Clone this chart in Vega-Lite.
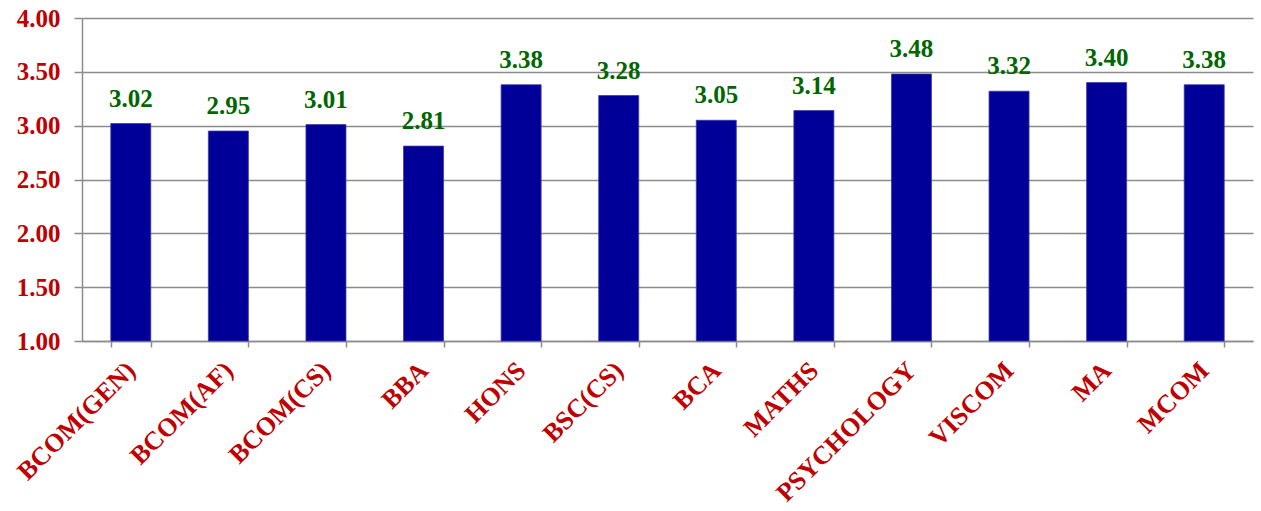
{
  "$schema": "https://vega.github.io/schema/vega-lite/v6.json",
  "autosize": "none",
  "width": 1171,
  "height": 323,
  "padding": {"left": 82, "top": 18, "right": 8, "bottom": 170},
  "background": "white",
  "config": {
    "view": {"stroke": null},
    "font": "'Liberation Serif', 'Times New Roman', serif"
  },
  "data": {
    "values": [
      {"course": "BCOM(GEN)", "value": 3.02},
      {"course": "BCOM(AF)", "value": 2.95},
      {"course": "BCOM(CS)", "value": 3.01},
      {"course": "BBA", "value": 2.81},
      {"course": "HONS", "value": 3.38},
      {"course": "BSC(CS)", "value": 3.28},
      {"course": "BCA", "value": 3.05},
      {"course": "MATHS", "value": 3.14},
      {"course": "PSYCHOLOGY", "value": 3.48},
      {"course": "VISCOM", "value": 3.32},
      {"course": "MA", "value": 3.40},
      {"course": "MCOM", "value": 3.38}
    ]
  },
  "encoding": {
    "x": {
      "field": "course",
      "type": "nominal",
      "sort": null,
      "scale": {"paddingInner": 0.59, "paddingOuter": 0.295},
      "axis": {
        "title": null,
        "labelAngle": -45,
        "labelAlign": "right",
        "labelBaseline": "middle",
        "labelFont": "'Liberation Serif', 'Times New Roman', serif",
        "labelFontWeight": "bold",
        "labelFontSize": 26,
        "labelColor": "#c00000",
        "labelPadding": 19,
        "labelLimit": 500,
        "tickBand": "extent",
        "tickSize": 6,
        "tickColor": "#8c8c8c",
        "tickWidth": 1.5,
        "domainColor": "#8c8c8c",
        "domainWidth": 1.5,
        "grid": false,
        "labelOverlap": false
      }
    }
  },
  "layer": [
    {
      "mark": {"type": "bar", "color": "#000099", "stroke": "#3a3aa8", "strokeWidth": 0.8},
      "encoding": {
        "y": {
          "field": "value",
          "type": "quantitative",
          "scale": {"domain": [1, 4], "zero": false, "nice": false},
          "axis": {
            "title": null,
            "values": [1, 1.5, 2, 2.5, 3, 3.5, 4],
            "format": ".2f",
            "labelFont": "'Liberation Serif', 'Times New Roman', serif",
            "labelFontWeight": "bold",
            "labelFontSize": 25,
            "labelColor": "#c00000",
            "labelPadding": 14,
            "tickSize": 8,
            "tickColor": "#8c8c8c",
            "tickWidth": 1.5,
            "domainColor": "#8c8c8c",
            "domainWidth": 1.5,
            "gridColor": "#8c8c8c",
            "gridWidth": 1.5
          }
        },
        "y2": {"datum": 1}
      }
    },
    {
      "mark": {
        "type": "text",
        "font": "'Liberation Serif', 'Times New Roman', serif",
        "fontWeight": "bold",
        "fontSize": 25,
        "color": "#006600",
        "baseline": "alphabetic",
        "dy": -17
      },
      "encoding": {
        "y": {"field": "value", "type": "quantitative"},
        "text": {"field": "value", "type": "quantitative", "format": ".2f"}
      }
    }
  ]
}
